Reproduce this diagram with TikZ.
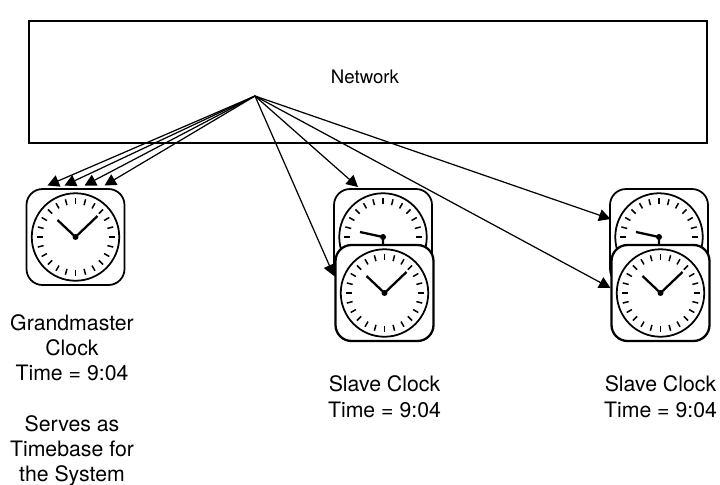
\documentclass[tikz,border=0pt]{standalone}
\usepackage{fontspec}
\setmainfont{TeX Gyre Heros}
\usetikzlibrary{arrows.meta}
\tikzset{
  netbox/.style={draw, line width=1pt, minimum width=13.56cm, minimum height=2.44cm, inner sep=0pt},
  clockbox/.style={draw, fill=white, rounded corners=0.32cm, minimum width=1.96cm, minimum height=1.92cm, inner sep=0pt},
  clockdial/.style={draw, line width=1pt, circle, minimum size=1.75cm, inner sep=0pt},
  clocktick/.style={line width=0.85pt},
  clockhand/.style={line width=1.3pt},
  clocktext/.style={align=center, inner sep=0pt, anchor=base, font=\fontsize{12.1}{14.35}\selectfont},
  netarrow/.style={-{Triangle[length=2.3mm,width=2.4mm]}, line width=0.7pt}
}
% name, x, y, box line width, minute hand end, hour hand end
\newcommand{\clockface}[6]{
\node[clockbox, line width=#4] (#1) at (#2, #3) {};
\node[clockdial] (#1dial) at (#1) {};
\foreach \a in {0,15,...,345}
  \draw[clocktick, shift={(#1)}] (\a:33) -- (\a:39);
\draw[clockhand, shift={(#1)}] (#5) -- (0, 0) -- (#6);
\fill[shift={(#1)}] (0, 0) circle (3);
}
\begin{document}
\begin{tikzpicture}[x=0.02cm, y=-0.02cm]
\useasboundingbox (0, 0) rectangle (720, 484);
\node[netbox] (network) at (368, 82) {};
\node () at (365, 77) [font=\fontsize{10.6}{12.7}\selectfont] {Network};
\coordinate (hub) at (255, 96);
% clocks
\clockface{master}{75.5}{237}{1pt}{22, -21}{-18, -17}
\clockface{slaveback}{383}{237}{1pt}{0, 18}{-23, -5}
\clockface{slavefront}{384.5}{293}{1.3pt}{22, -21}{-18, -17}
\clockface{farback}{659}{237}{1pt}{0, 18}{-23, -5}
\clockface{farfront}{660.5}{293}{1.3pt}{22, -21}{-18, -17}
% arrow tips
\coordinate (m1) at (47.5, 185.5);
\coordinate (m2) at (64.5, 185.5);
\coordinate (m3) at (84.5, 185.5);
\coordinate (m4) at (104.5, 185.5);
\coordinate (s1) at (358, 187);
\coordinate (s2) at (334, 276);
\coordinate (f1) at (610.5, 219);
\coordinate (f2) at (610.5, 288);
\foreach \t in {m1,m2,m3,m4,s1,s2,f1,f2}
  \draw[netarrow] (hub) -- (\t);
% labels
\node[clocktext] (mastertext) at (72, 481.5) {Grandmaster\\Clock\\Time = 9:04\\[14.35pt]Serves as\\Timebase for\\the System};
\node[clocktext] (slavetext) at (384.5, 417) {Slave Clock\\Time = 9:04};
\node[clocktext] (fartext) at (660.5, 417) {Slave Clock\\Time = 9:04};
\end{tikzpicture}
\end{document}
